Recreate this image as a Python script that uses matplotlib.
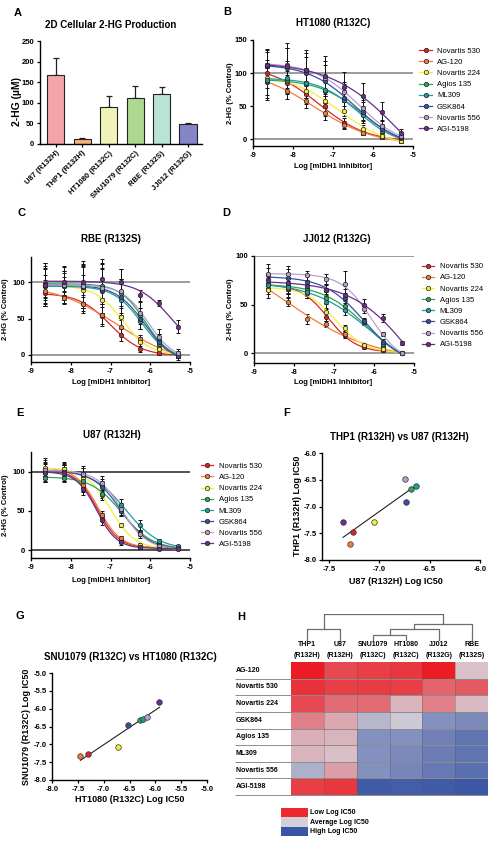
import numpy as np
import matplotlib
matplotlib.use('Agg')
import matplotlib.pyplot as plt
from matplotlib.lines import Line2D
from matplotlib.patches import Rectangle
from matplotlib.colors import LinearSegmentedColormap

plt.rcParams['font.family'] = ['Liberation Sans', 'DejaVu Sans']
plt.rcParams['font.weight'] = 'bold'
plt.rcParams['axes.unicode_minus'] = False

# ---- data ----
cell_lines = ['U87 (R132H)', 'THP1 (R132H)', 'HT1080 (R132C)', 'SNU1079 (R132C)', 'RBE (R132S)', 'JJ012 (R132G)']
hg_um = [168, 13, 90, 112, 122, 48]
hg_err = [40, 2, 26, 28, 16, 3]
bar_colors = ['#f4a3a8', '#f6b27a', '#f1f2b8', '#acd88f', '#b9e3d3', '#8585c9']

compounds = ['Novartis 530', 'AG-120', 'Novartis 224', 'Agios 135', 'ML309', 'GSK864', 'Novartis 556', 'AGI-5198']
cmp_colors = ['#d7262b', '#ee7d3a', '#f2ee3a', '#2ea55a', '#1f9e9e', '#3b4fa0', '#b9a0cc', '#6b2d8f']
log_conc = [-8.64, -8.16, -7.68, -7.21, -6.73, -6.25, -5.78, -5.30]

# % control, one row per compound (same order as compounds)
ht1080_pct = [[100, 85, 68, 50, 25, 10, 5, 0],
              [87, 73, 58, 40, 22, 10, 4, -3],
              [92, 88, 73, 58, 43, 16, 5, -2],
              [88, 90, 83, 73, 60, 40, 15, 3],
              [90, 93, 85, 75, 60, 37, 12, 2],
              [110, 108, 100, 88, 63, 42, 15, 3],
              [112, 113, 105, 92, 72, 48, 20, 5],
              [112, 110, 105, 96, 79, 65, 42, 9]]
ht1080_err = [[15, 12, 15, 15, 8, 4, 3, 3],
              [20, 12, 10, 10, 6, 3, 3, 3],
              [15, 15, 15, 10, 8, 6, 4, 3],
              [25, 20, 20, 18, 15, 10, 6, 3],
              [30, 25, 22, 20, 18, 12, 8, 4],
              [25, 30, 25, 30, 20, 15, 8, 5],
              [20, 25, 25, 20, 15, 12, 10, 6],
              [25, 35, 30, 30, 22, 20, 14, 6]]

rbe_pct = [[85, 80, 70, 54, 27, 8, 3, 0],
           [88, 78, 70, 55, 38, 22, 10, 0],
           [95, 95, 90, 76, 52, 17, 8, 0],
           [98, 98, 97, 95, 85, 55, 20, 0],
           [95, 95, 93, 88, 76, 47, 15, 0],
           [97, 96, 94, 90, 80, 50, 18, -2],
           [97, 96, 95, 92, 88, 58, 25, 2],
           [97, 101, 101, 105, 101, 82, 71, 39]]
rbe_err = [[18, 8, 10, 12, 8, 4, 3, 3],
           [12, 8, 12, 15, 10, 5, 4, 3],
           [15, 12, 20, 20, 15, 8, 5, 4],
           [20, 15, 25, 25, 20, 10, 8, 4],
           [25, 20, 28, 30, 25, 12, 10, 5],
           [25, 20, 30, 35, 25, 15, 10, 5],
           [30, 25, 30, 35, 30, 15, 10, 6],
           [30, 22, 28, 27, 17, 8, 4, 9]]

jj012_pct = [[70, 66, 62, 37, 19, 6, 3, 0],
             [66, 53, 35, 30, 20, 8, 5, 0],
             [65, 67, 62, 42, 26, 8, 4, 0],
             [71, 69, 65, 57, 49, 32, 10, 0],
             [70, 68, 63, 53, 44, 32, 10, 0],
             [80, 77, 73, 65, 57, 33, 12, 0],
             [82, 82, 80, 76, 71, 45, 20, 0],
             [75, 72, 69, 65, 60, 50, 36, 11]]
jj012_err = [[5, 5, 5, 4, 3, 2, 2, 1],
             [5, 4, 5, 3, 3, 2, 2, 1],
             [8, 5, 5, 5, 3, 2, 2, 1],
             [6, 8, 6, 6, 6, 3, 3, 1],
             [6, 10, 6, 8, 5, 3, 3, 1],
             [8, 10, 6, 6, 5, 3, 3, 1],
             [10, 8, 5, 5, 14, 4, 2, 1],
             [8, 8, 5, 5, 6, 6, 4, 2]]

u87_pct = [[100, 100, 80, 42, 12, 5, 3, 3],
           [103, 102, 83, 45, 15, 5, 3, 3],
           [105, 103, 92, 70, 32, 7, 4, 3],
           [92, 92, 88, 72, 50, 22, 8, 4],
           [100, 100, 97, 82, 57, 32, 12, 5],
           [100, 100, 96, 80, 50, 22, 6, 3],
           [102, 100, 97, 85, 52, 20, 5, 3],
           [98, 98, 78, 38, 10, 4, 2, 2]]
u87_err = [[6, 6, 6, 5, 3, 2, 1, 1],
           [8, 6, 8, 5, 3, 2, 1, 1],
           [10, 8, 8, 6, 3, 2, 1, 1],
           [5, 5, 6, 5, 5, 3, 2, 1],
           [10, 8, 8, 8, 8, 6, 2, 1],
           [12, 10, 8, 8, 6, 4, 2, 1],
           [15, 12, 10, 10, 8, 4, 2, 1],
           [8, 10, 8, 6, 4, 2, 1, 1]]

# log IC50 comparisons (compound order)
u87_ic50 = [-7.26, -7.29, -7.05, -6.69, -6.64, -6.74, -6.75, -7.36]
thp1_ic50 = [-7.47, -7.71, -7.29, -6.67, -6.62, -6.92, -6.48, -7.29]
ht1080_ic50 = [-7.31, -7.45, -6.72, -6.29, -6.23, -6.53, -6.16, -5.92]
snu1079_ic50 = [-7.28, -7.33, -7.07, -6.32, -6.28, -6.47, -6.24, -5.81]

# heatmap (relative log IC50, -1 low ... +1 high)
hm_rows = ['AG-120', 'Novartis 530', 'Novartis 224', 'GSK864', 'Agios 135', 'ML309', 'Novartis 556', 'AGI-5198']
hm_cols = ['THP1', 'U87', 'SNU1079', 'HT1080', 'JJ012', 'RBE']
hm_muts = ['(R132H)', '(R132H)', '(R132C)', '(R132C)', '(R132G)', '(R132S)']
hm_vals = [[-1.0, -0.75, -0.8, -0.85, -1.0, -0.08],
           [-0.88, -0.8, -0.82, -0.8, -0.6, -0.65],
           [-0.75, -0.55, -0.55, -0.15, -0.45, -0.12],
           [-0.45, -0.22, 0.2, 0.05, 0.5, 0.55],
           [-0.18, -0.15, 0.5, 0.5, 0.62, 0.72],
           [-0.15, -0.1, 0.5, 0.55, 0.65, 0.72],
           [0.25, -0.28, 0.5, 0.58, 0.68, 0.75],
           [-0.8, -0.85, 0.92, 0.9, 0.92, 0.95]]
# dendrogram links: (child a, child b, height), leaves are columns 0-5
dendro_links = [(0, 1, 12.3), (2, 3, 5.6), (7, 4, 11.7), (8, 5, 16.7), (6, 9, 26.6)]
legend_labels = ['Low Log IC50', 'Average Log IC50', 'High Log IC50']

# ---- layout helpers ----
W, H = 488, 850
fig = plt.figure(figsize=(4.88, 8.5), dpi=100)


def box(x0, y0, x1, y1):
    return [x0 / W, 1 - y1 / H, (x1 - x0) / W, (y1 - y0) / H]


def ftext(x, y, s, size, ha='center', va='center', **kw):
    fig.text(x / W, 1 - y / H, s, fontsize=size, fontweight='bold', ha=ha, va=va, **kw)


def style(ax, size=5.5):
    for s in ('top', 'right'):
        ax.spines[s].set_visible(False)
    for s in ('left', 'bottom'):
        ax.spines[s].set_linewidth(1.0)
    ax.tick_params(direction='out', length=2.5, width=0.9, labelsize=size, pad=1.5)


def fit_4pl(x, y):
    x = np.asarray(x, float)
    y = np.asarray(y, float)
    ic, hill = np.meshgrid(np.arange(-9.0, -5.0, 0.01), np.arange(0.4, 3.0, 0.02))
    ic = ic.ravel()[:, None]
    hill = hill.ravel()[:, None]
    s = 1 / (1 + 10 ** (hill * (x - ic)))
    sc = s - s.mean(1, keepdims=True)
    slope = (sc * (y - y.mean())).sum(1) / (sc ** 2).sum(1)
    bottom = y.mean() - slope * s.mean(1)
    top = bottom + slope
    sse = ((bottom[:, None] + slope[:, None] * s - y) ** 2).sum(1)
    sse[(top > 160) | (bottom < -100) | (slope <= 0)] = np.inf
    i = np.argmin(sse)
    return bottom[i], top[i], ic[i, 0], hill[i, 0]


# ---- A: bar chart ----
ax = fig.add_axes(box(40, 41, 202, 144))
xpos = np.arange(len(cell_lines))
ax.bar(xpos, hg_um, width=0.65, color=bar_colors, edgecolor='#222', linewidth=0.8, zorder=2)
ax.errorbar(xpos, hg_um, yerr=[np.zeros(len(hg_err)), hg_err], fmt='none', ecolor='#222',
            elinewidth=0.9, capsize=2.5, capthick=0.9, zorder=1)
ax.set_xlim(-0.6, 5.53)
ax.set_ylim(0, 250)
ax.set_yticks([0, 50, 100, 150, 200, 250])
ax.set_xticks(xpos)
ax.set_xticklabels(cell_lines, rotation=45, ha='right', rotation_mode='anchor')
style(ax)
ftext(111, 25, '2D Cellular 2-HG Production', 7)
ftext(17, 102, '2-HG (\u00b5M)', 7.5, rotation=90)


# ---- B-E: dose response ----
def dose_panel(rect, pct, err, ylim, yticks, line_color, leg_anchor=None):
    ax = fig.add_axes(rect)
    ax.axhline(0, color=line_color, lw=1.2, zorder=1)
    ax.axhline(100, color=line_color, lw=1.2, zorder=1)
    xs = np.linspace(log_conc[0], log_conc[-1], 200)
    for col, y, e in zip(cmp_colors, pct, err):
        b, t, ic, h = fit_4pl(log_conc, y)
        ax.plot(xs, b + (t - b) / (1 + 10 ** (h * (xs - ic))), color=col, lw=0.9, zorder=3)
        ax.errorbar(log_conc, y, yerr=e, fmt='none', ecolor='#111', elinewidth=0.7,
                    capsize=1.5, capthick=0.7, zorder=2)
        ax.plot(log_conc, y, 'o', ms=3.2, mfc=col, mec='#222', mew=0.5, zorder=4)
    ax.set_xlim(-9, -5)
    ax.set_ylim(*ylim)
    ax.set_xticks([-9, -8, -7, -6, -5])
    ax.set_yticks(yticks)
    style(ax)
    if leg_anchor is not None:
        handles = [Line2D([], [], color=c, lw=0.9, marker='o', ms=3.2, mfc=c, mec='#222', mew=0.5)
                   for c in cmp_colors]
        ax.legend(handles, compounds, loc='upper left', bbox_to_anchor=leg_anchor, frameon=False,
                  prop={'size': 5.5, 'weight': 'normal'}, handlelength=1.6, handletextpad=0.7,
                  labelspacing=0.5, borderpad=0, borderaxespad=0)
    return ax


dose_panel(box(253, 40, 413, 146), ht1080_pct, ht1080_err, (-10, 150), [0, 50, 100, 150], '#8a8a8a', (1.04, 0.93))
ftext(333, 23, 'HT1080 (R132C)', 7)
ftext(333, 167, 'Log [mIDH1 Inhibitor]', 5.5)
ftext(231, 93, '2-HG (% Control)', 5.5, rotation=90)

dose_panel(box(31, 257, 190, 362), rbe_pct, rbe_err, (-10, 135), [0, 50, 100], '#8a8a8a')
ftext(111, 239, 'RBE (R132S)', 7)
ftext(111, 383, 'Log [mIDH1 Inhibitor]', 5.5)
ftext(6, 309, '2-HG (% Control)', 5.5, rotation=90)

dose_panel(box(254, 256, 414, 363), jj012_pct, jj012_err, (-10, 100), [0, 50, 100], '#8a8a8a', (1.05, 0.935))
ftext(337, 239, 'JJ012 (R132G)', 7)
ftext(333, 383, 'Log [mIDH1 Inhibitor]', 5.5)
ftext(230, 309, '2-HG (% Control)', 5.5, rotation=90)

dose_panel(box(31, 452, 190, 558), u87_pct, u87_err, (-10, 125), [0, 50, 100], '#333333', (1.07, 0.9))
ftext(112, 435, 'U87 (R132H)', 7)
ftext(111, 580, 'Log [mIDH1 Inhibitor]', 5.5)
ftext(6, 505, '2-HG (% Control)', 5.5, rotation=90)


# ---- F, G: IC50 correlations ----
def ic50_panel(rect, xs, ys, xlim, ylim, xticks, yticks):
    ax = fig.add_axes(rect)
    k, c = np.polyfit(xs, ys, 1)
    xl = np.array([min(xs), max(xs)])
    ax.plot(xl, k * xl + c, color='#222', lw=0.8, zorder=2)
    for x, y, col in zip(xs, ys, cmp_colors):
        ax.plot(x, y, 'o', ms=4, mfc=col, mec='#333', mew=0.5, zorder=3)
    ax.set_xlim(*xlim)
    ax.set_ylim(*ylim)
    ax.set_xticks(xticks)
    ax.set_yticks(yticks)
    ax.set_xticklabels(['%.1f' % v for v in xticks])
    ax.set_yticklabels(['%.1f' % v for v in yticks])
    style(ax)
    return ax


ic50_panel(box(322, 453, 480, 560), u87_ic50, thp1_ic50, (-7.57, -6.0), (-8.0, -6.0),
           [-7.5, -7.0, -6.5, -6.0], [-8.0, -7.5, -7.0, -6.5, -6.0])
ftext(399, 437, 'THP1 (R132H) vs U87 (R132H)', 7)
ftext(396, 581, 'U87 (R132H) Log IC50', 6.5)
ftext(298, 506, 'THP1 (R132H) Log IC50', 6.5, rotation=90)

ic50_panel(box(52, 673, 207, 780), ht1080_ic50, snu1079_ic50, (-8.0, -5.0), (-8.0, -5.0),
           list(np.arange(-8.0, -4.99, 0.5)), list(np.arange(-8.0, -4.99, 0.5)))
ftext(130, 657, 'SNU1079 (R132C) vs HT1080 (R132C)', 7)
ftext(130, 800, 'HT1080 (R132C) Log IC50', 6.5)
ftext(27, 727, 'SNU1079 (R132C) Log IC50', 6.5, rotation=90)

# ---- H: heatmap ----
cmap = LinearSegmentedColormap.from_list('ic50', ['#ec1c24', '#d6d0d8', '#3451a3'])
axh = fig.add_axes(box(291, 662, 488, 795))
axh.pcolormesh(np.arange(len(hm_cols) + 1), np.arange(len(hm_rows) + 1), np.array(hm_vals),
               cmap=cmap, vmin=-1, vmax=1)
axh.set_xlim(0, len(hm_cols))
axh.set_ylim(len(hm_rows), 0)
axh.axis('off')
axh.hlines(np.arange(1, len(hm_rows) + 1), -1.7, len(hm_cols), colors='#8c8c8c', lw=0.7, clip_on=False)
axh.vlines(np.arange(1, len(hm_cols)), 0, len(hm_rows), colors='#555555', lw=0.4, alpha=0.6)
for i, name in enumerate(hm_rows):
    axh.text(-1.68, i + 0.5, name, ha='left', va='center', fontsize=5, fontweight='bold')
for j, (name, mut) in enumerate(zip(hm_cols, hm_muts)):
    axh.text(j + 0.5, -1.05, name, ha='center', va='center', fontsize=5, fontweight='bold')
    axh.text(j + 0.5, -0.42, mut, ha='center', va='center', fontsize=5, fontweight='bold')

axd = fig.add_axes(box(291, 614, 488, 641))
pos = {i: i + 0.5 for i in range(len(hm_cols))}
hgt = {i: 0.0 for i in range(len(hm_cols))}
for n, (a, b, h) in enumerate(dendro_links, start=len(hm_cols)):
    axd.plot([pos[a], pos[a], pos[b], pos[b]], [hgt[a], h, h, hgt[b]], color='#6e6e6e', lw=0.9)
    pos[n] = (pos[a] + pos[b]) / 2
    hgt[n] = h
axd.set_xlim(0, len(hm_cols))
axd.set_ylim(0, 27)
axd.axis('off')

for k, (lab, col) in enumerate(zip(legend_labels, ['#ec2a2e', '#d3d0dc', '#3a55a7'])):
    y0 = 808 + k * 9.4
    fig.add_artist(Rectangle((281 / W, 1 - (y0 + 9.4) / H), 27 / W, 9.4 / H,
                             transform=fig.transFigure, facecolor=col, edgecolor='none'))
    ftext(310, y0 + 4.7, lab, 5, ha='left')

# panel letters
for letter, x, y in [('A', 18, 13), ('B', 227, 12), ('C', 21, 213), ('D', 226, 213),
                     ('E', 20, 413), ('F', 287, 413), ('G', 20, 616), ('H', 241, 617)]:
    ftext(x, y, letter, 8)

fig.savefig('out.png', dpi=100)
